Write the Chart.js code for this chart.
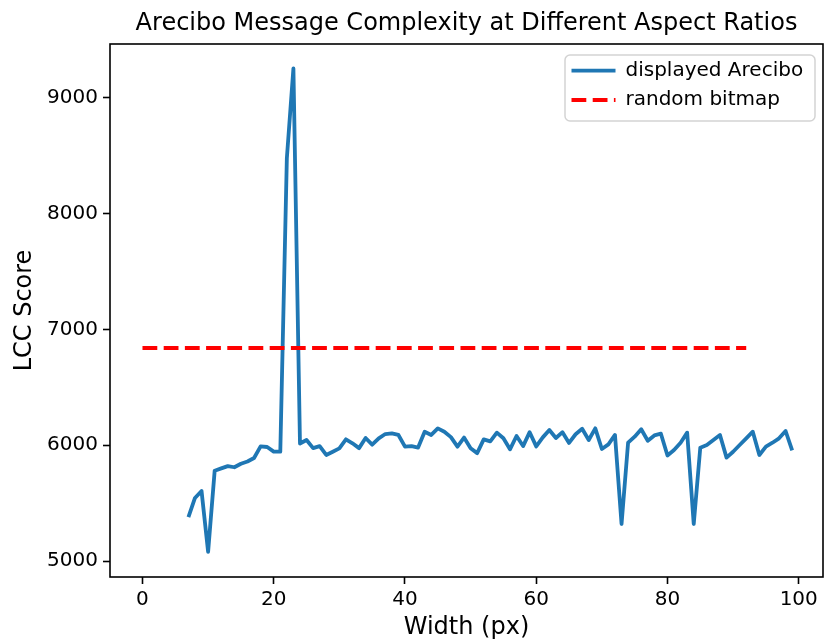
<!DOCTYPE html>
<html>
<head>
<meta charset="utf-8">
<script src="https://cdn.jsdelivr.net/npm/chart.js@4/dist/chart.umd.min.js"></script>
<style>
html,body{margin:0;padding:0;background:#fff;}
#wrap{width:824px;height:644px;}
</style>
</head>
<body>
<div id="wrap"><canvas id="c" width="824" height="644"></canvas></div>
<script>
// ---- data ----
const widths = [7,8,9,10,11,12,13,14,15,16,17,18,19,20,21,22,23,24,25,26,27,28,29,30,31,32,33,34,35,36,37,38,39,40,41,42,43,44,45,46,47,48,49,50,51,52,53,54,55,56,57,58,59,60,61,62,63,64,65,66,67,68,69,70,71,72,73,74,75,76,77,78,79,80,81,82,83,84,85,86,87,88,89,90,91,92,93,94,95,96,97,98,99];
const areciboScores = [5380,5545,5605,5080,5780,5800,5820,5810,5840,5860,5890,5990,5985,5945,5945,8480,9255,6015,6045,5975,5993,5916,5944,5973,6051,6017,5975,6063,6005,6060,6097,6103,6089,5988,5993,5980,6117,6089,6146,6117,6070,5988,6066,5975,5932,6051,6033,6109,6060,5965,6080,5993,6113,5990,6068,6132,6063,6113,6020,6095,6142,6045,6146,5968,6008,6089,5320,6022,6074,6138,6039,6085,6100,5912,5959,6022,6109,5320,5979,6002,6045,6089,5893,5944,6002,6060,6117,5916,5988,6022,6060,6123,5955];
const randomWidths = [0, 92];
const randomScores = [6840, 6840];
const xTicks = [0, 20, 40, 60, 80, 100];
const yTicks = [5000, 6000, 7000, 8000, 9000];
const seriesNames = ['displayed Arecibo', 'random bitmap'];
const titleText = 'Arecibo Message Complexity at Different Aspect Ratios';
const xLabel = 'Width (px)';
const yLabel = 'LCC Score';
const xLimits = [-4.95, 103.7];
const yLimits = [4862, 9466];

const FONT = 'DejaVu Sans';

const overlayPlugin = {
  id: 'overlay',
  afterLayout(chart) {
    const a = chart.chartArea;
    // centre title over plot area
    if (chart.titleBlock) {
      chart.titleBlock.left = a.left;
      chart.titleBlock.right = a.right;
      chart.titleBlock.width = a.right - a.left;
    }
    const lg = chart.legend;
    if (lg) {
      const pad = lg.options.labels.padding;
      const left = a.right - 251.5 - pad;
      const top = a.top + 16.7 - pad;
      const w = lg.width;
      lg.left = left; lg.top = top;
      lg.right = left + w; lg.bottom = top + 200;
      lg.height = 200;
    }
  },
  beforeDraw(chart) {
    const ctx = chart.ctx, a = chart.chartArea;
    ctx.save();
    ctx.fillStyle = '#fff';
    ctx.fillRect(0, 0, chart.width, chart.height);
    ctx.beginPath();
    ctx.roundRect(a.right - 258, a.top + 11, 250, 66, 5);
    ctx.fillStyle = 'rgba(255,255,255,0.8)';
    ctx.fill();
    ctx.strokeStyle = '#d3d3d3';
    ctx.lineWidth = 1.5;
    ctx.stroke();
    ctx.restore();
  },
  afterDatasetsDraw(chart) {
    const ctx = chart.ctx, a = chart.chartArea;
    ctx.save();
    ctx.strokeStyle = '#000';
    ctx.lineWidth = 1.6;
    ctx.strokeRect(a.left, a.top, a.right - a.left, a.bottom - a.top);
    ctx.restore();
  }
};

new Chart(document.getElementById('c'), {
  type: 'line',
  data: {
    datasets: [
      {
        label: seriesNames[0],
        data: widths.map((w, i) => ({x: w, y: areciboScores[i]})),
        borderColor: '#1f77b4',
        borderWidth: 3.8,
        borderJoinStyle: 'round',
        pointRadius: 0,
        tension: 0,
        fill: false,
        order: 1
      },
      {
        label: seriesNames[1],
        data: randomWidths.map((w, i) => ({x: w, y: randomScores[i]})),
        borderColor: '#ff0000',
        borderWidth: 3.8,
        borderDash: [14.8, 6.4],
        borderCapStyle: 'butt',
        pointRadius: 0,
        tension: 0,
        fill: false,
        order: 0
      }
    ]
  },
  options: {
    responsive: false,
    animation: false,
    events: [],
    layout: {padding: {left: 0, right: 1, top: 0, bottom: 0}},
    plugins: {
      title: {
        display: true,
        text: titleText,
        color: '#000',
        font: {family: FONT, size: 24, weight: 'normal'},
        padding: {top: 9, bottom: 6.2}
      },
      legend: {
        display: true,
        position: 'chartArea',
        align: 'start',
        labels: {
          font: {family: FONT, size: 20},
          color: '#000',
          usePointStyle: true,
          pointStyleWidth: 44,
          padding: 9.3,
          generateLabels: (chart) => chart.data.datasets.map((ds, i) => ({
            text: ds.label,
            fillStyle: ds.borderColor,
            strokeStyle: ds.borderColor,
            lineWidth: ds.borderWidth,
            lineDash: ds.borderDash || [],
            lineDashOffset: 0,
            lineCap: 'butt',
            pointStyle: 'line',
            rotation: 0,
            hidden: false,
            datasetIndex: i,
            fontColor: '#000'
          }))
        }
      },
      tooltip: {enabled: false}
    },
    scales: {
      x: {
        type: 'linear',
        min: xLimits[0],
        max: xLimits[1],
        afterBuildTicks: (s) => { s.ticks = xTicks.map(v => ({value: v})); },
        afterFit: (s) => { s.height = 67; },
        ticks: {
          color: '#000',
          font: {family: FONT, size: 20},
          padding: 4,
          maxRotation: 0,
          autoSkip: false,
          callback: (v) => String(v)
        },
        grid: {display: true, drawOnChartArea: false, drawTicks: true, tickLength: 7, tickWidth: 1.6, tickColor: '#000'},
        border: {display: false},
        title: {display: true, text: xLabel, color: '#000', font: {family: FONT, size: 24}, padding: {top: 0, bottom: 2}}
      },
      y: {
        type: 'linear',
        min: yLimits[0],
        max: yLimits[1],
        afterBuildTicks: (s) => { s.ticks = yTicks.map(v => ({value: v})); },
        afterFit: (s) => { s.width = 110; },
        ticks: {
          color: '#000',
          font: {family: FONT, size: 20},
          padding: 5,
          autoSkip: false,
          callback: (v) => String(v)
        },
        grid: {display: true, drawOnChartArea: false, drawTicks: true, tickLength: 7, tickWidth: 1.6, tickColor: '#000'},
        border: {display: false},
        title: {display: true, text: yLabel, color: '#000', font: {family: FONT, size: 24}, padding: {top: 10, bottom: 0}}
      }
    }
  },
  plugins: [overlayPlugin]
});
</script>
</body>
</html>
